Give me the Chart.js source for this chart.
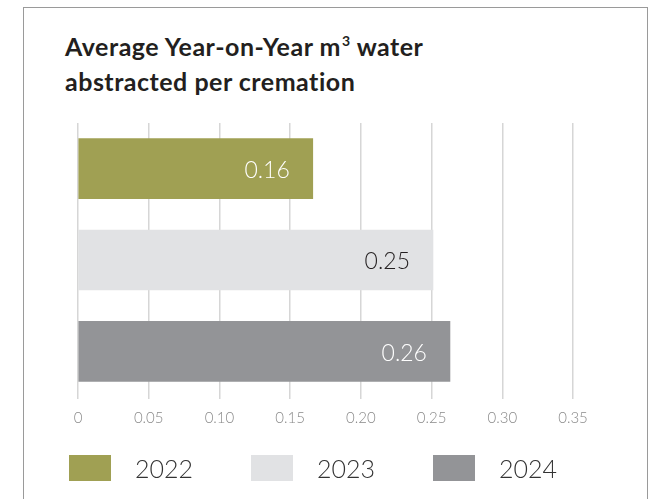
<!DOCTYPE html>
<html>
<head>
<meta charset="utf-8">
<script src="https://cdn.jsdelivr.net/npm/chart.js@4"></script>
<style>
  html, body { margin: 0; padding: 0; background: #fff; }
  body { width: 654px; height: 499px; position: relative; overflow: hidden; font-family: 'Lato', 'Noto Sans', sans-serif; }
  .card { position: absolute; left: 23px; top: 7px; width: 625px; height: 600px; border: 1px solid #9a9a9a; box-sizing: border-box; }
  .title-line { position: absolute; left: 65px; font-size: 25px; font-weight: 700; line-height: 25px; letter-spacing: 0.5px; color: #231f20; white-space: nowrap; }
  .title-line sup { font-size: 14px; line-height: 0; vertical-align: 0; position: relative; top: -10px; margin-left: 1px; }
  #chart { position: absolute; left: 0; top: 0; }
  .legend { position: absolute; left: 0; top: 455px; }
  .legend-item { position: absolute; top: 0; height: 26px; white-space: nowrap; }
  .legend-box { position: absolute; left: 0; top: 0; width: 42px; height: 26px; }
  .legend-text { position: absolute; left: 66px; top: -2px; font-size: 25px; line-height: 30px; font-weight: 300; color: #333; }
</style>
</head>
<body>
<div class="card"></div>
<div class="title-line" style="top:34px">Average Year-on-Year m<sup>3</sup> water</div>
<div class="title-line" style="top:69px">abstracted per cremation</div>
<canvas id="chart" width="654" height="499"></canvas>
<div class="legend" id="legend"></div>
<script>
/* ── Data ── */
const years       = ['2022', '2023', '2024'];
const values      = [0.166, 0.251, 0.263];
const valueLabels = ['0.16', '0.25', '0.26'];
const barColors   = ['#a0a053', '#e1e2e4', '#939497'];
const labelColors = ['#ffffff', '#231f20', '#ffffff'];
const xTicks      = ['0', '0.05', '0.10', '0.15', '0.20', '0.25', '0.30', '0.35'];

/* ── Value labels inside bar ends ── */
const barLabels = {
  id: 'barLabels',
  afterDatasetsDraw(chart) {
    const ctx = chart.ctx;
    const meta = chart.getDatasetMeta(0);
    ctx.save();
    ctx.font = '300 23px Lato, "Noto Sans", sans-serif';
    ctx.textAlign = 'right';
    ctx.textBaseline = 'middle';
    meta.data.forEach((bar, i) => {
      ctx.fillStyle = labelColors[i];
      ctx.fillText(valueLabels[i], bar.x - 23, bar.y + 2);
    });
    ctx.restore();
  }
};

const ctx = document.getElementById('chart').getContext('2d');

new Chart(ctx, {
  type: 'bar',
  data: {
    labels: years,
    datasets: [{
      data: values,
      backgroundColor: barColors,
      borderWidth: 0,
      barThickness: 60
    }]
  },
  options: {
    indexAxis: 'y',
    responsive: false,
    animation: false,
    layout: { padding: { left: 78, right: 81, top: 123, bottom: 62 } },
    plugins: {
      legend: { display: false },
      tooltip: { enabled: false }
    },
    scales: {
      x: {
        min: 0,
        max: 0.35,
        border: { display: false },
        grid: { color: '#d6d6d6', lineWidth: 1.5, tickLength: 2 },
        ticks: {
          stepSize: 0.05,
          padding: 10,
          color: '#8a8a8a',
          font: { family: 'Lato', size: 15, weight: 300 },
          callback: (v, i) => xTicks[i]
        }
      },
      y: {
        display: false,
        grid: { display: false }
      }
    }
  },
  plugins: [barLabels]
});

/* ── Legend ── */
const legendEl = document.getElementById('legend');
years.forEach((y, i) => {
  const item = document.createElement('div');
  item.className = 'legend-item';
  item.style.left = (69 + i * 182) + 'px';
  item.innerHTML = `<div class="legend-box" style="background:${barColors[i]}"></div><span class="legend-text">${y}</span>`;
  legendEl.appendChild(item);
});
</script>
</body>
</html>
